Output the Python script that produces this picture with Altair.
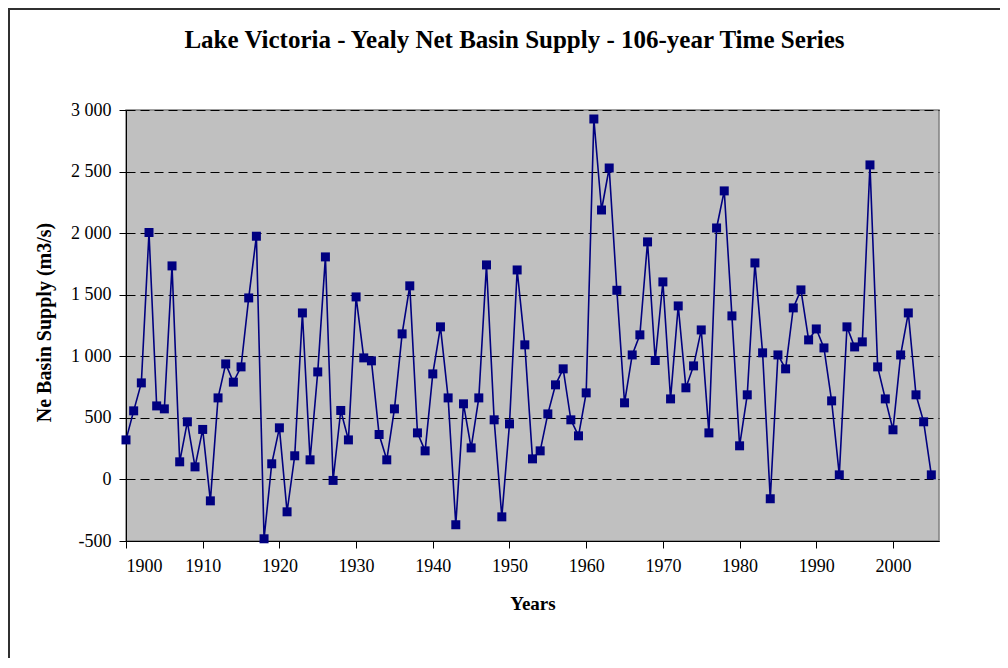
import altair as alt
import pandas as pd

years = list(range(1900, 2006))
supply = [
    321, 557, 784, 2005, 597, 573, 1734, 143, 468, 102,
    406, -174, 662, 938, 790, 914, 1474, 1975, -482, 127,
    419, -263, 192, 1352, 159, 873, 1807, -8, 560, 321,
    1482, 987, 963, 365, 159, 573, 1182, 1572, 378, 232,
    857, 1239, 662, -368, 614, 256, 662, 1742, 484, -304,
    451, 1701, 1093, 167, 232, 532, 768, 898, 484, 354,
    703, 2927, 2188, 2529, 1536, 622, 1011, 1174, 1929, 966,
    1604, 654, 1409, 744, 922, 1214, 378, 2042, 2343, 1328,
    273, 687, 1758, 1028, -157, 1011, 898, 1393, 1539, 1133,
    1222, 1068, 638, 37, 1239, 1076, 1117, 2554, 914, 654,
    403, 1011, 1352, 687, 468, 37,
]
x_ticks = [1900, 1910, 1920, 1930, 1940, 1950, 1960, 1970, 1980, 1990, 2000]
y_ticks = [-500, 0, 500, 1000, 1500, 2000, 2500, 3000]

df = pd.DataFrame({"Year": years, "Supply": supply})

FONT = "Liberation Serif"
W, H = 813, 431

base = alt.Chart(df)

line = base.mark_line(
    color="#000080",
    strokeWidth=1.6,
    clip=False,
    point=alt.OverlayMarkDef(shape="square", size=81, filled=True, color="#000080", opacity=1),
).encode(
    x=alt.X(
        "Year:Q",
        scale=alt.Scale(domain=[1900, 2006], nice=False, zero=False),
        axis=alt.Axis(
            values=x_ticks,
            format="d",
            title="Years",
            grid=False,
            labelFont=FONT,
            labelFontSize=18,
            labelColor="black",
            labelPadding=9,
            tickSize=7,
            tickColor="black",
            domainColor="black",
            titleFont=FONT,
            titleFontSize=19,
            titleFontWeight="bold",
            titleColor="black",
            titleY=62,
            titleBaseline="middle",
        ),
    ),
    y=alt.Y(
        "Supply:Q",
        scale=alt.Scale(domain=[-500, 3000], nice=False, zero=False),
        axis=alt.Axis(
            values=y_ticks,
            labelExpr="replace(replace(format(datum.value, ','), ',', ' '), '\u2212', '-')",
            title="Ne Basin Supply (m3/s)",
            grid=True,
            gridColor="black",
            gridDash=[9, 5],
            gridWidth=1,
            labelFont=FONT,
            labelFontSize=18,
            labelColor="black",
            labelPadding=8,
            tickSize=7,
            tickColor="black",
            domainColor="black",
            titleFont=FONT,
            titleFontSize=20,
            titleFontWeight="bold",
            titleColor="black",
            titleX=-82,
            titleY=212,
            titleBaseline="middle",
        ),
    ),
)

frame_df = pd.DataFrame({"k": [0]})
left_border = alt.Chart(frame_df).mark_rule(color="#303030", strokeWidth=2, clip=False).encode(
    x=alt.value(-117), y=alt.value(-102), y2=alt.value(H + 119)
)
top_border = alt.Chart(frame_df).mark_rule(color="#303030", strokeWidth=2, clip=False).encode(
    x=alt.value(-118), x2=alt.value(W + 61), y=alt.value(-101)
)

chart = (
    alt.layer(left_border, top_border, line)
    .properties(
        width=W,
        height=H,
        autosize=alt.AutoSizeParams(type="none"),
        padding={"left": 118, "top": 102, "right": 61, "bottom": 117},
        view=alt.ViewBackground(fill="#C0C0C0", stroke="#808080", strokeWidth=1.5),
        title=alt.TitleParams(
            text="Lake Victoria - Yealy Net Basin Supply - 106-year Time Series",
            font=FONT,
            fontSize=25,
            fontWeight="bold",
            color="black",
            anchor="middle",
            dx=-18,
            dy=53,
            offset=7,
        ),
    )
    .configure(background="white")
)

chart.save("out.html", embed_options={"renderer": "svg", "actions": False})
